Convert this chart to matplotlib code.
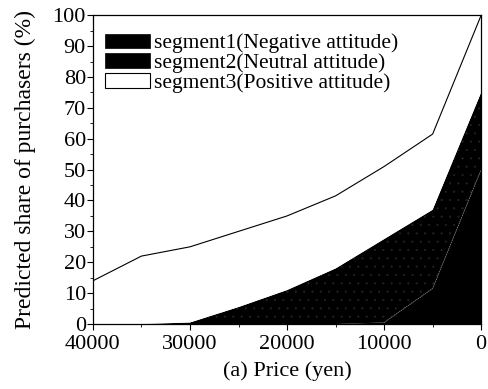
import matplotlib
matplotlib.use("Agg")
import matplotlib.pyplot as plt
import matplotlib.patches as mpatches
import numpy as np

plt.rcParams["font.family"] = ["Liberation Serif", "DejaVu Serif"]
plt.rcParams["hatch.color"] = "#242424"
plt.rcParams["hatch.linewidth"] = 0.3

# price points (yen) and share of purchasers per segment (%)
price = [40000, 35000, 30000, 25000, 20000, 15000, 10000, 5000, 0]
seg_negative = [0, 0, 0, 0, 0, 0, 0.5, 11.5, 50]
seg_neutral = [0, 0, 0.5, 5.5, 11, 18, 27, 25.5, 25]
seg_positive = [14, 22, 24.5, 24.5, 24, 23.5, 23.5, 24.5, 25]
labels = ["segment1(Negative attitude)", "segment2(Neutral attitude)",
          "segment3(Positive attitude)"]

fig = plt.figure(figsize=(4.89, 3.89), dpi=100)
ax = fig.add_axes([0.19, 0.167, 0.794, 0.794])

polys = ax.stackplot(price, seg_negative, seg_neutral, seg_positive,
                     colors=["black", "black", "white"], linewidth=0)
polys[1].set_hatch("..")
polys[1].set_edgecolor("none")

top = np.array(seg_negative) + np.array(seg_neutral) + np.array(seg_positive)
ax.plot(price, top, color="black", linewidth=0.8)
ax.plot(price[6:], seg_negative[6:], color="#8a8a8a", linewidth=0.6,
        linestyle=(0, (1, 1.5)))

ax.set_xlim(40000, 0)
ax.set_ylim(0, 100)
ax.set_xticks([40000, 30000, 20000, 10000, 0])
ax.set_xticks([35000, 25000, 15000, 5000], minor=True)
ax.set_yticks(range(0, 101, 10))
ax.set_yticks(range(5, 100, 10), minor=True)
ax.tick_params(axis="both", which="major", direction="out", length=4, width=0.8,
               labelsize=16)
ax.tick_params(axis="y", which="major", pad=1)
ax.tick_params(axis="x", which="major", pad=4)
ax.tick_params(axis="both", which="minor", direction="out", length=2.5, width=0.6)
for s in ax.spines.values():
    s.set_linewidth(0.9)

ax.set_xlabel("(a) Price (yen)", fontsize=16, labelpad=5)
ax.set_ylabel("Predicted share of purchasers (%)", fontsize=17, labelpad=12)

handles = [
    mpatches.Patch(facecolor="black", edgecolor="black", linewidth=0.5),
    mpatches.Patch(facecolor="black", edgecolor="black", hatch="..", linewidth=0.5),
    mpatches.Patch(facecolor="white", edgecolor="black", linewidth=0.8),
]
ax.legend(handles, labels, loc="upper left", frameon=False, fontsize=15.5,
          handlelength=2.1, handleheight=0.65, handletextpad=0.2,
          labelspacing=0.0, borderaxespad=0.0, borderpad=0.0,
          bbox_to_anchor=(0.03, 0.94))

fig.savefig("out.png", dpi=100)
